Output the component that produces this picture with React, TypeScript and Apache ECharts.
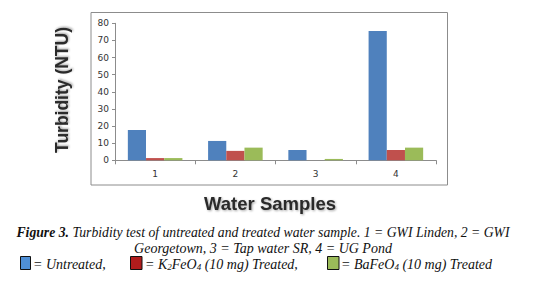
import React, { useEffect, useRef } from "react";
import * as echarts from "echarts";

const categories = ["1", "2", "3", "4"];
const untreated = [17.7, 11.3, 6.0, 75.5];
const k2feo4 = [1.3, 5.5, 0, 6.0];
const bafeo4 = [1.3, 7.4, 0.8, 7.4];
const yTicks = { min: 0, max: 80, interval: 10 };

export default function App() {
  const ref = useRef<HTMLDivElement>(null);
  useEffect(() => {
    document.body.style.margin = "0";
    const chart = echarts.init(ref.current!, null, { renderer: "svg" });
    const serif = "'Liberation Serif', 'Times New Roman', serif";
    const capStyle = { fontFamily: serif, fontSize: 14, fontStyle: "italic", fill: "#111" };
    chart.setOption({
      animation: false,
      backgroundColor: "#fff",
      grid: { left: 115, right: 97, top: 23.3, bottom: 136.7 },
      xAxis: {
        type: "category",
        data: categories,
        axisLine: { lineStyle: { color: "#8c8c8c", width: 1 } },
        axisTick: { show: true, length: 4, inside: false, lineStyle: { color: "#8c8c8c" } },
        axisLabel: { color: "#333", fontSize: 9, fontFamily: "'DejaVu Sans', sans-serif", margin: 9 },
        splitLine: { show: false },
      },
      yAxis: {
        type: "value",
        min: yTicks.min,
        max: yTicks.max,
        interval: yTicks.interval,
        axisLine: { show: true, lineStyle: { color: "#8c8c8c", width: 1 } },
        axisTick: { show: true, length: 3, lineStyle: { color: "#8c8c8c" } },
        axisLabel: { color: "#333", fontSize: 9, fontFamily: "'DejaVu Sans', sans-serif", margin: 6 },
        splitLine: { show: false },
      },
      series: [
        { name: "Untreated", type: "bar", data: untreated, itemStyle: { color: "#4F81BD" }, barGap: "0%", barCategoryGap: "32%" },
        { name: "K2FeO4", type: "bar", data: k2feo4, itemStyle: { color: "#C0504D" }, barGap: "0%", barCategoryGap: "32%" },
        { name: "BaFeO4", type: "bar", data: bafeo4, itemStyle: { color: "#9BBB59" }, barGap: "0%", barCategoryGap: "32%" },
      ],
      graphic: [
        { type: "rect", shape: { x: 91, y: 12.5, width: 356.5, height: 172.5 }, style: { fill: "none", stroke: "#8c8c8c", lineWidth: 1 }, silent: true },
        {
          type: "text", x: 62, y: 90, rotation: Math.PI / 2,
          style: { text: "Turbidity (NTU)", fontFamily: "'Liberation Sans', Arial, sans-serif", fontWeight: "bold", fontSize: 17.5, fill: "#2a2a2a", align: "center", verticalAlign: "middle", textShadowColor: "rgba(0,0,0,0.35)", textShadowBlur: 2, textShadowOffsetX: 1, textShadowOffsetY: 1 },
        },
        {
          type: "text", x: 270, y: 203,
          style: { text: "Water Samples", fontFamily: "'Liberation Sans', Arial, sans-serif", fontWeight: "bold", fontSize: 18.5, fill: "#2a2a2a", align: "center", verticalAlign: "middle", textShadowColor: "rgba(0,0,0,0.35)", textShadowBlur: 2, textShadowOffsetX: 1, textShadowOffsetY: 1 },
        },
        {
          type: "text", x: 263, y: 232,
          style: {
            text: "{b|Figure 3.} Turbidity test of untreated and treated water sample. 1 = GWI Linden, 2 = GWI",
            ...capStyle, fontSize: 13.7, align: "center", verticalAlign: "middle",
            rich: { b: { fontFamily: serif, fontSize: 13.7, fontStyle: "italic", fontWeight: "bold", fill: "#111" } },
          },
        },
        {
          type: "text", x: 263, y: 248,
          style: { text: "Georgetown, 3 = Tap water SR, 4 = UG Pond", ...capStyle, align: "center", verticalAlign: "middle" },
        },
        { type: "rect", shape: { x: 20.5, y: 256.5, width: 10, height: 13 }, style: { fill: "#4F8FD6", stroke: "#111", lineWidth: 1 } },
        { type: "text", x: 33, y: 264, style: { text: "= Untreated,", ...capStyle, verticalAlign: "middle" } },
        { type: "rect", shape: { x: 130.5, y: 256.5, width: 11.5, height: 13 }, style: { fill: "#B01C1C", stroke: "#111", lineWidth: 1 } },
        {
          type: "text", x: 145, y: 264,
          style: {
            text: "= K{s|2}FeO{s|4} (10 mg) Treated,", ...capStyle, verticalAlign: "middle",
            rich: { s: { fontFamily: serif, fontSize: 9, fontStyle: "italic", fill: "#111", padding: [6, 0, 0, 0] } },
          },
        },
        { type: "rect", shape: { x: 327.5, y: 256.5, width: 11.5, height: 13 }, style: { fill: "#9BBB59", stroke: "#111", lineWidth: 1 } },
        {
          type: "text", x: 341, y: 264,
          style: {
            text: "= BaFeO{s|4} (10 mg) Treated", ...capStyle, verticalAlign: "middle",
            rich: { s: { fontFamily: serif, fontSize: 9, fontStyle: "italic", fill: "#111", padding: [6, 0, 0, 0] } },
          },
        },
      ],
    });
    return () => chart.dispose();
  }, []);
  return <div ref={ref} style={{ width: 533, height: 297, position: "fixed", left: 0, top: 0 }} />;
}
